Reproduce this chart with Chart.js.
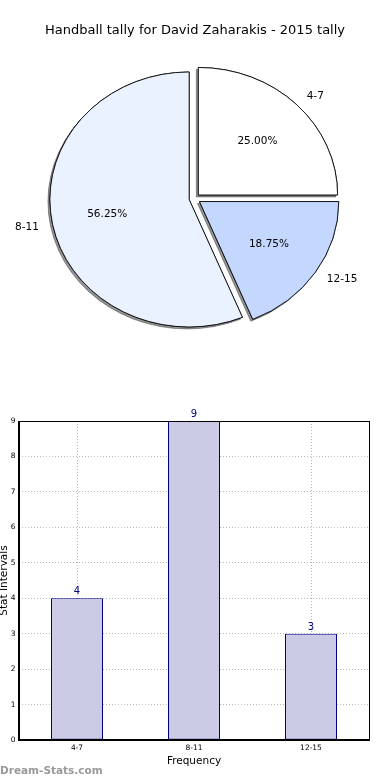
<!DOCTYPE html>
<html>
<head>
<meta charset="utf-8">
<script src="https://cdn.jsdelivr.net/npm/chart.js@4.4.1/dist/chart.umd.min.js"></script>
<style>
  body { margin: 0; background: #fff; width: 390px; height: 780px; position: relative; overflow: hidden; font-family: "DejaVu Sans", sans-serif; }
  #pieBox { position: absolute; left: 0; top: 0; width: 390px; height: 397px; }
  #barBox { position: absolute; left: 0; top: 400px; width: 390px; height: 380px; }
  #title { position: absolute; left: 0; top: 22px; width: 390px; text-align: center; font-size: 13px; line-height: 16px; color: #000; }
  #mark { position: absolute; left: 0; top: 762px; font-size: 10.5px; line-height: 16px; color: #999; font-weight: bold; }
</style>
</head>
<body>
<div id="pieBox"><canvas id="pieChart"></canvas></div>
<div id="title">Handball tally for David Zaharakis - 2015 tally</div>
<div id="barBox"><canvas id="barChart"></canvas></div>
<div id="mark">Dream-Stats.com</div>

<script>
// data
const categories = ['4-7', '8-11', '12-15'];
const tallies = [4, 9, 3];
const yTicks = [0, 1, 2, 3, 4, 5, 6, 7, 8, 9];

// pie styling (same order as categories)
const pieFill = ['#ffffff', '#eaf1ff', '#c4d8ff'];
const pieExplode = [5, 5, 5.5];
const stretchX = 1.092; // the pie is an ellipse, wider than tall

// matplotlib goes counter clockwise, Chart.js clockwise -> reverse the order
const pieLabels = categories.slice().reverse();
const pieValues = tallies.slice().reverse();
const pieColors = pieFill.slice().reverse();
const pieOffsets = pieExplode.slice().reverse();

Chart.defaults.font.family = '"DejaVu Sans", sans-serif';
Chart.defaults.color = '#000';

// draws shadows, exploded wedges and the labels
const pieLook = {
  id: 'pieLook',
  beforeDatasetsDraw(chart) {
    const ctx = chart.ctx;
    const arcs = chart.getDatasetMeta(0).data;
    const cx = arcs[0].x - 0.5;
    const total = pieValues.reduce((a, b) => a + b, 0);

    const drawPass = (withShadow) => {
      arcs.forEach((arc, i) => {
        const mid = (arc.startAngle + arc.endAngle) / 2;
        const e = pieOffsets[i];
        ctx.save();
        if (withShadow) {
          ctx.shadowColor = 'rgba(0,0,0,0.42)';
          ctx.shadowOffsetX = -2;
          ctx.shadowOffsetY = 2;
          ctx.shadowBlur = 0;
        }
        ctx.translate(cx, 0);
        ctx.scale(stretchX, 1);
        ctx.translate(-arc.x, 0);
        ctx.translate(Math.cos(mid) * e, Math.sin(mid) * e);
        arc.draw(ctx);
        ctx.restore();
      });
    };
    drawPass(true);
    drawPass(false);

    // labels
    ctx.save();
    ctx.fillStyle = '#000';
    ctx.font = '10.5px "DejaVu Sans"';
    ctx.textBaseline = 'middle';
    arcs.forEach((arc, i) => {
      const mid = (arc.startAngle + arc.endAngle) / 2;
      const e = pieOffsets[i];
      const r = arc.outerRadius;
      const ox = cx + Math.cos(mid) * e * stretchX;
      const oy = arc.y + Math.sin(mid) * e;

      ctx.textAlign = Math.cos(mid) > 0 ? 'left' : 'right';
      ctx.fillText(pieLabels[i], ox + Math.cos(mid) * r * 1.1 * stretchX, oy + Math.sin(mid) * r * 1.1);

      ctx.textAlign = 'center';
      const pct = (pieValues[i] / total * 100).toFixed(2) + '%';
      ctx.fillText(pct, ox + Math.cos(mid) * r * 0.6 * stretchX, oy + Math.sin(mid) * r * 0.6);
    });
    ctx.restore();
    return false;
  }
};

new Chart(document.getElementById('pieChart'), {
  type: 'pie',
  data: {
    labels: pieLabels,
    datasets: [{
      data: pieValues,
      backgroundColor: pieColors,
      borderColor: '#000',
      borderWidth: 0.8
    }]
  },
  options: {
    responsive: true,
    maintainAspectRatio: false,
    animation: false,
    rotation: 90,
    radius: 127.5,
    layout: { padding: 0 },
    plugins: { legend: { display: false }, tooltip: { enabled: false } }
  },
  plugins: [pieLook]
});

// value labels above bars + frame on top and right
const barExtras = {
  id: 'barExtras',
  afterDatasetsDraw(chart) {
    const ctx = chart.ctx;
    ctx.save();
    ctx.fillStyle = '#000080';
    ctx.font = '10px "DejaVu Sans"';
    ctx.textAlign = 'center';
    ctx.textBaseline = 'alphabetic';
    chart.getDatasetMeta(0).data.forEach((bar, i) => {
      ctx.fillText(String(tallies[i]), bar.x, bar.y - 4);
    });
    ctx.restore();
  },
  afterDraw(chart) {
    const a = chart.chartArea;
    const ctx = chart.ctx;
    ctx.save();
    ctx.strokeStyle = '#000';
    ctx.lineWidth = 1;
    ctx.strokeRect(Math.round(a.left) + 0.5, Math.round(a.top) + 0.5, Math.round(a.right - a.left) - 1, Math.round(a.bottom - a.top) - 1);
    ctx.restore();
  }
};

new Chart(document.getElementById('barChart'), {
  type: 'bar',
  data: {
    labels: categories,
    datasets: [{
      data: tallies,
      backgroundColor: '#cbcbe5',
      borderColor: '#000080',
      borderWidth: 1,
      borderSkipped: false,
      barPercentage: 0.4445,
      categoryPercentage: 1
    }]
  },
  options: {
    responsive: true,
    maintainAspectRatio: false,
    animation: false,
    layout: { padding: { top: 21, right: 20.5, left: -0.5, bottom: 0 } },
    plugins: { legend: { display: false }, tooltip: { enabled: false } },
    scales: {
      x: {
        z: 1,
        grid: { color: '#b8b8b8', offset: false, drawTicks: false },
        border: { color: '#000', dash: [1, 2] },
        ticks: { font: { size: 7.5 }, color: '#000', padding: 4 },
        title: { display: true, text: 'Frequency', font: { size: 10.5 }, color: '#000', padding: { top: 0, bottom: 12.7 } },
        afterFit(scale) { scale.height = 40; }
      },
      y: {
        min: yTicks[0],
        max: yTicks[yTicks.length - 1],
        grid: { color: '#b8b8b8', drawTicks: false },
        border: { color: '#000', dash: [1, 2] },
        ticks: { stepSize: 1, font: { size: 7.5 }, color: '#000', padding: 3 },
        title: { display: true, text: 'Stat Intervals', font: { size: 10.5 }, color: '#000', padding: { top: -2, bottom: 0 } },
        afterFit(scale) { scale.width = 19; }
      }
    }
  },
  plugins: [barExtras]
});
</script>
</body>
</html>
